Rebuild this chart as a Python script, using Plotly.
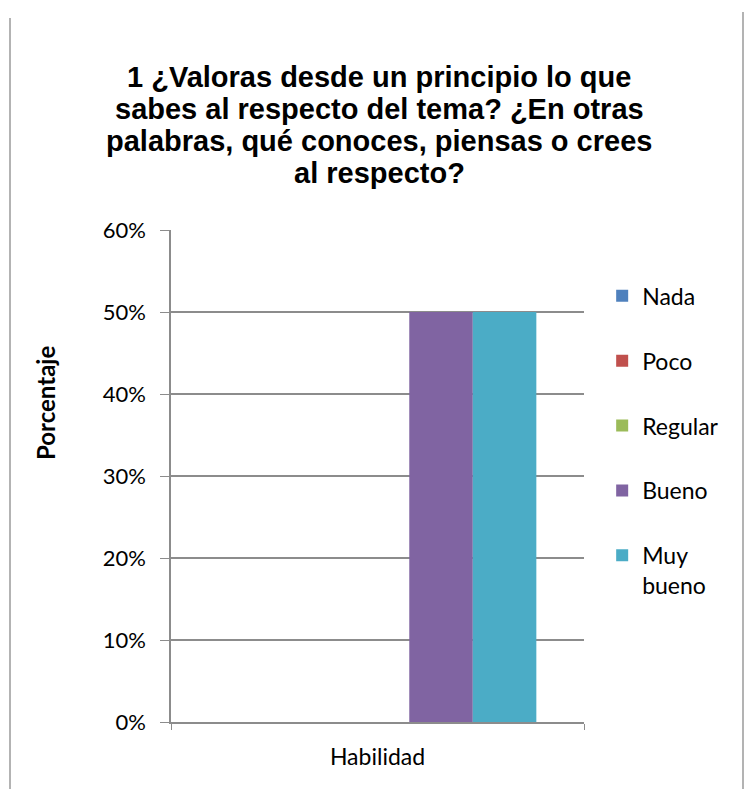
import plotly.graph_objects as go

# Chart data
categories = ["Habilidad"]
series_names = ["Nada", "Poco", "Regular", "Bueno", "Muy bueno"]
legend_labels = ["Nada", "Poco", "Regular", "Bueno", "Muy<br>bueno"]
series_values = [0.0, 0.0, 0.0, 0.5, 0.5]
series_colors = ["#4F81BD", "#C0504D", "#9BBB59", "#8064A2", "#4BACC6"]
y_ticks = [0, 0.1, 0.2, 0.3, 0.4, 0.5, 0.6]

title_lines = [
    "1 ¿Valoras desde un principio lo que",
    "sabes al respecto del tema? ¿En otras",
    "palabras, qué conoces, piensas o crees",
    "al respecto?",
]
y_title = "Porcentaje"

BODY_FONT = "Lato, 'Open Sans', sans-serif"
TITLE_FONT = "Liberation Sans, Arial, sans-serif"
AXIS_GREY = "#8C8C8C"

# plot-area geometry in pixels (used to place the free-standing texts)
FIG_W, FIG_H = 745, 789
M_L, M_R, M_T, M_B = 171, 161, 230, 67
PLOT_W = FIG_W - M_L - M_R
PLOT_H = FIG_H - M_T - M_B


def paper_x(px):
    return (px - M_L) / PLOT_W


def paper_y(px):
    return (FIG_H - M_B - px) / PLOT_H


fig = go.Figure()
for name, label, val, col in zip(series_names, legend_labels, series_values, series_colors):
    fig.add_trace(go.Bar(
        x=categories, y=[val], name=label, legendgroup=name,
        marker=dict(color=col, line=dict(width=0)),
        hovertemplate=name + ": %{y:.0%}<extra></extra>",
    ))

# title drawn line by line for tight, even spacing
annotations = []
for i, line in enumerate(title_lines):
    annotations.append(dict(
        text="<b>" + line + "</b>", xref="paper", yref="paper",
        x=paper_x(379), y=paper_y(77 + 32 * i), xanchor="center", yanchor="middle",
        showarrow=False,
        font=dict(family=TITLE_FONT, size=29, color="#000000"),
    ))

# vertical axis title, sitting above the plot's vertical centre
annotations.append(dict(
    text="<b>" + y_title + "</b>", xref="paper", yref="paper",
    x=paper_x(45), y=paper_y(403), xanchor="center", yanchor="middle",
    textangle=-90, showarrow=False,
    font=dict(family=BODY_FONT, size=24, color="#000000"),
))

fig.update_layout(
    width=FIG_W, height=FIG_H,
    margin=dict(l=M_L, r=M_R, t=M_T, b=M_B),
    paper_bgcolor="white", plot_bgcolor="white",
    barmode="group", bargap=0.2308, bargroupgap=0,
    showlegend=True,
    legend=dict(
        x=1.044, xanchor="left", y=0.91, yanchor="top",
        font=dict(family=BODY_FONT, size=23, color="#000000"),
        tracegroupgap=32, traceorder="grouped", valign="top",
        itemwidth=30, bgcolor="rgba(0,0,0,0)",
    ),
    xaxis=dict(
        type="category", showline=True, linecolor=AXIS_GREY, linewidth=1.5,
        ticks="outside", tickson="boundaries", ticklen=6, tickcolor=AXIS_GREY,
        tickfont=dict(family=BODY_FONT, size=23, color="#000000"),
        ticklabelstandoff=14,
        showgrid=False, fixedrange=True,
    ),
    yaxis=dict(
        range=[0, 0.6], tickvals=y_ticks, tickformat=".0%",
        showline=True, linecolor=AXIS_GREY, linewidth=1.5,
        ticks="outside", ticklen=9, tickcolor=AXIS_GREY,
        ticklabelstandoff=10,
        showgrid=True, gridcolor=AXIS_GREY, gridwidth=1.5,
        zeroline=False,
        tickfont=dict(family=BODY_FONT, size=22, color="#000000"),
        fixedrange=True,
    ),
    annotations=annotations,
    shapes=[
        # page frame edges on both sides of the chart
        dict(type="line", xref="paper", yref="paper", x0=paper_x(10), x1=paper_x(10),
             y0=paper_y(18), y1=paper_y(800), line=dict(color="#9A9A9A", width=1.5)),
        dict(type="line", xref="paper", yref="paper", x0=paper_x(743), x1=paper_x(743),
             y0=paper_y(12), y1=paper_y(800), line=dict(color="#9A9A9A", width=1.5)),
    ],
)

fig.write_html("out.html")
